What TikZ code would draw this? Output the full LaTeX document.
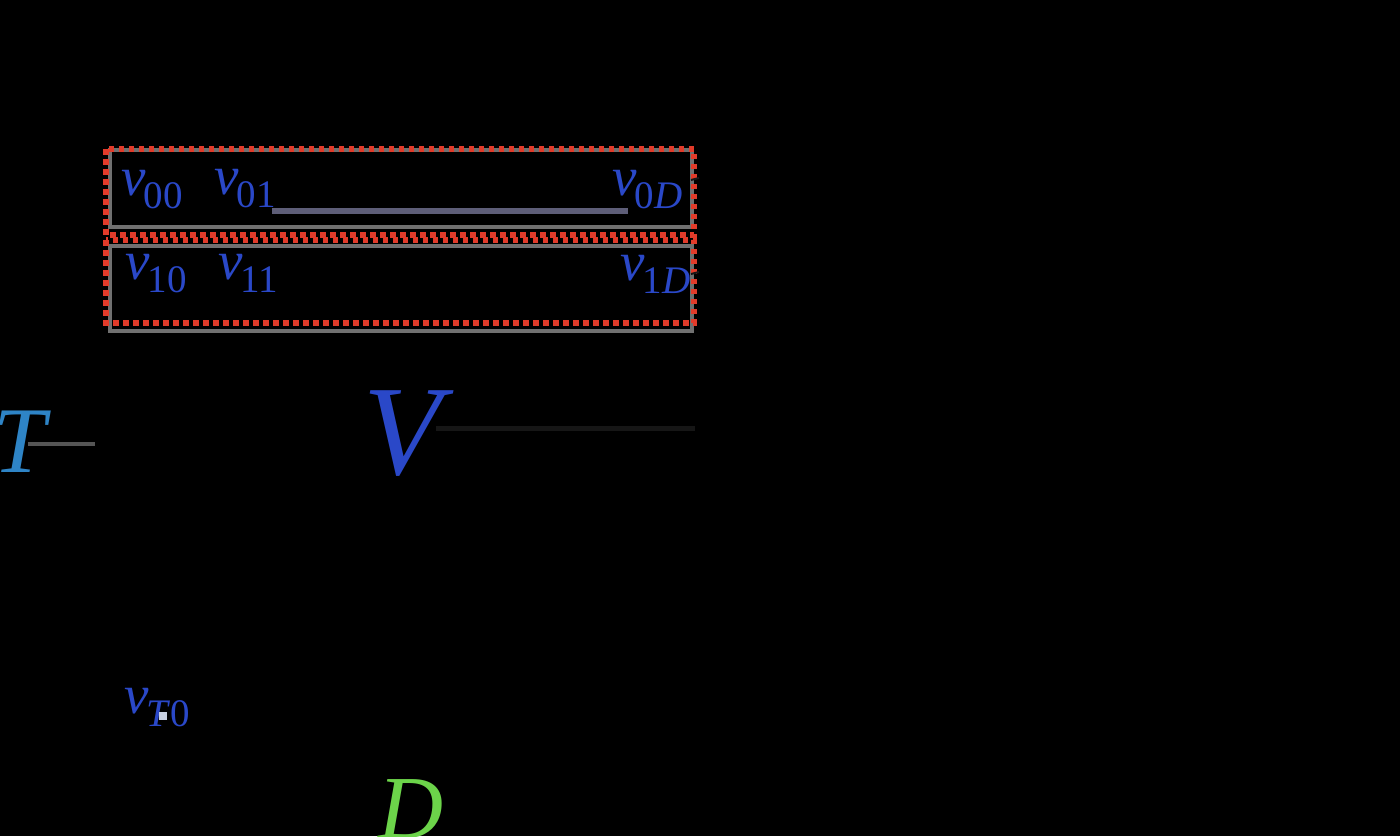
\documentclass[tikz,border=0pt]{standalone}
\usepackage{fontspec}
\setmainfont{Liberation Serif}
\usepackage{graphicx}
\usetikzlibrary{calc}
\definecolor{vblue}{HTML}{2A48C8}
\definecolor{tblue}{HTML}{2E84C6}
\definecolor{dgreen}{HTML}{6CD44A}
\definecolor{dred}{HTML}{E23B2A}
\definecolor{boxgray}{HTML}{707070}
\definecolor{linkgray}{HTML}{5E5E78}
\definecolor{tgray}{HTML}{555555}
\definecolor{vgray}{HTML}{161616}
\definecolor{chip}{HTML}{C8D0E0}
% v with subscript: #1 = subscript text
\newcommand{\vsb}[1]{\textit{v}\kern-2pt\raisebox{-13pt}{\fontsize{39}{42}\selectfont #1}}
\tikzset{
  vlab/.style={text=vblue, inner sep=0pt, anchor=base west, font=\fontsize{55}{60}\selectfont},
  biglab/.style={inner sep=0pt, anchor=base west},
  redbox/.style={draw=dred, line width=5.5pt, dash pattern=on 5.5pt off 4.5pt},
  graybox/.style={draw=boxgray, line width=4pt},
}
\begin{document}
\begin{tikzpicture}[x=1pt,y=-1pt]
\fill[black] (0,0) rectangle (1400,836);
\useasboundingbox (0,0) rectangle (1400,836);
% gray frames
\draw[graybox] (110,150) rectangle (692,227);
\draw[graybox] (110,246) rectangle (692,331);
% red dotted frames
\draw[redbox] (106,149) rectangle (694,235);
\draw[redbox] (106,240) rectangle (694,323);
% link between v01 and v0D
\coordinate (l1) at (272,211);
\coordinate (l2) at (628,211);
\draw[linkgray, line width=6pt] (l1) -- (l2);
% labels row 0
\node[vlab] (v00) at (121,195) {\vsb{00}};
\node[vlab] (v01) at (214,194) {\vsb{01}};
\node[vlab] (v0D) at (612,195) {\vsb{0\textit{D}}};
% labels row 1
\node[vlab] (v10) at (125,279) {\vsb{10}};
\node[vlab] (v11) at (218,279) {\vsb{11}};
\node[vlab] (v1D) at (620,280) {\vsb{1\textit{D}}};
% ticks at right
\coordinate (t1) at (699,178);
\coordinate (t2) at (699,272);
\draw[vgray, line width=2pt] (t1) -- ++(-8,2);
\draw[vgray, line width=2pt] (t2) -- ++(-8,2);
% T
\coordinate (Tstart) at (28,444);
\coordinate (Tend) at (95,444);
\draw[tgray, line width=4pt] (Tstart) -- (Tend);
\node[biglab, text=tblue, font=\fontsize{94}{100}\selectfont] (T) at (-7,472) {\textit{T}};
% V
\coordinate (Vstart) at (436,428);
\coordinate (Vend) at (695,428);
\draw[vgray, line width=5pt] (Vstart) -- (Vend);
\node[biglab, text=vblue, font=\fontsize{128}{134}\selectfont] (V) at (363,474) {\textit{V}};
% vT0
\node[vlab] (vT0) at (124,713) {\vsb{\textit{T}0}};
\fill[chip] (159,712) rectangle (167,720);
% D
\node[biglab, text=dgreen, font=\fontsize{90}{96}\selectfont] (D) at (378,838) {\textit{D}};
\end{tikzpicture}
\end{document}
